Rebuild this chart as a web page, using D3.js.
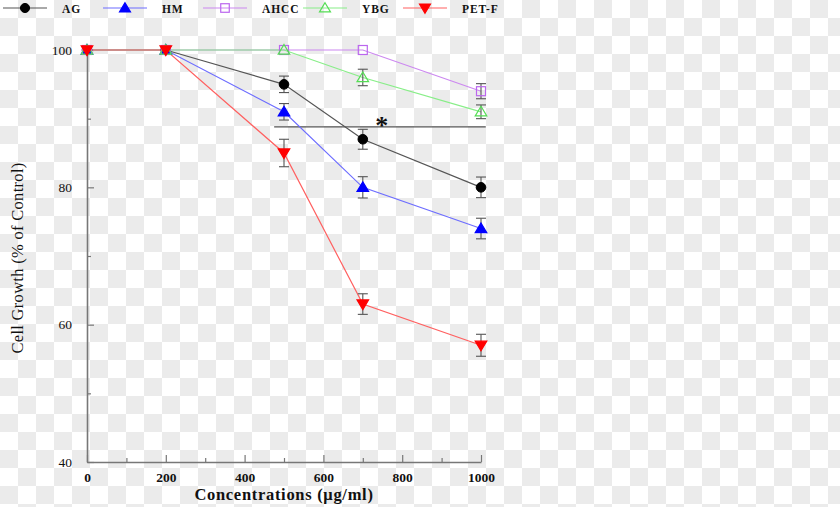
<!DOCTYPE html>
<html><head><meta charset="utf-8">
<script src="https://cdn.jsdelivr.net/npm/d3@7"></script>
<style>
html,body{margin:0;padding:0;background:#fff;}
svg{display:block;}
</style></head>
<body>
<script>
// ---- data ----
const concentrations = [0, 200, 500, 700, 1000];
const seriesNames = ["AG", "HM", "AHCC", "YBG", "PET-F"];
const agValues   = [100, 100, 95, 87, 80];
const hmValues   = [100, 100, 91, 80, 74];
const ahccValues = [100, 100, 100, 100, 94];
const ybgValues  = [100, 100, 100, 96, 91];
const petfValues = [100, 100, 85, 63, 57];
const agErr   = [0, 0, 1.2, 1.45, 1.5];
const hmErr   = [0, 0, 1.2, 1.55, 1.5];
const ahccErr = [0, 0, 0, 0, 1.1];
const ybgErr  = [0, 0, 0, 1.2, 1.0];
const petfErr = [0, 0, 2.0, 1.5, 1.6];
const xTicks = [0, 200, 400, 600, 800, 1000];
const xMinorTicks = [100, 300, 500, 700, 900];
const yTicks = [40, 60, 80, 100];
const yMinorTicks = [50, 70, 90];
const sigBar = [475, 1012, 88.8]; // x from, x to, y (data units)

// ---- styles ----
const styles = {
  "AG":    {line:"#555555", fill:"#000000", stroke:"#000000", shape:"circle"},
  "HM":    {line:"#6d6dff", fill:"#0000ff", stroke:"#0000ff", shape:"tri"},
  "AHCC":  {line:"#cc88f0", fill:"none",    stroke:"#bb66ee", shape:"square"},
  "YBG":   {line:"#88ee88", fill:"none",    stroke:"#55dd55", shape:"tri"},
  "PET-F": {line:"#ff6060", fill:"#ff0000", stroke:"#ff0000", shape:"triDown"}
};
const valuesBy = [agValues, hmValues, ahccValues, ybgValues, petfValues];
const errBy = [agErr, hmErr, ahccErr, ybgErr, petfErr];
const series = seriesNames.map((n,i)=>({name:n, values:valuesBy[i], err:errBy[i], st:styles[n]}));

const W = 840, H = 507;
const svg = d3.select("body").append("svg").attr("width", W).attr("height", H);

// checkerboard background
const defs = svg.append("defs");
const pat = defs.append("pattern").attr("id","chk").attr("width",36).attr("height",36)
  .attr("patternUnits","userSpaceOnUse");
pat.append("rect").attr("width",36).attr("height",36).attr("fill","#ffffff");
pat.append("rect").attr("x",18).attr("y",0).attr("width",18).attr("height",18).attr("fill","#ebebeb");
pat.append("rect").attr("x",0).attr("y",18).attr("width",18).attr("height",18).attr("fill","#ebebeb");
svg.append("rect").attr("width",W).attr("height",H).attr("fill","url(#chk)");

const x = d3.scaleLinear().domain([0, 1000]).range([87, 481]);
const y = d3.scaleLinear().domain([40, 100]).range([462, 50]);

const serif = "'Liberation Serif','DejaVu Serif',serif";

// axes
function styleAxis(g){
  g.selectAll("path.domain").attr("stroke","#777").attr("stroke-width",1.6);
  g.selectAll(".tick line").attr("stroke","#777").attr("stroke-width",1.2);
}
const gx = svg.append("g").attr("transform",`translate(0,${y(40)})`)
  .call(d3.axisBottom(x).tickValues(xTicks).tickSizeInner(-7).tickSizeOuter(0).tickPadding(10).tickFormat(d3.format("d")));
styleAxis(gx);
gx.selectAll(".tick text").attr("font-family",serif).attr("font-weight","bold").attr("font-size",13.5).attr("fill","#111");
const gxm = svg.append("g").attr("transform",`translate(0,${y(40)})`)
  .call(d3.axisBottom(x).tickValues(xMinorTicks).tickSizeInner(-4).tickSizeOuter(0).tickFormat(""));
gxm.select("path.domain").remove();
styleAxis(gxm);

const gy = svg.append("g").attr("transform",`translate(${x(0)},0)`)
  .call(d3.axisLeft(y).tickValues(yTicks).tickSizeInner(-7).tickSizeOuter(0).tickPadding(15).tickFormat(d3.format("d")));
styleAxis(gy);
gy.selectAll(".tick text").attr("font-family",serif).attr("font-size",13.5).attr("fill","#111");
const gym = svg.append("g").attr("transform",`translate(${x(0)},0)`)
  .call(d3.axisLeft(y).tickValues(yMinorTicks).tickSizeInner(-4).tickSizeOuter(0).tickFormat(""));
gym.select("path.domain").remove();
styleAxis(gym);

// axis titles
svg.append("text").attr("x",284).attr("y",500).attr("text-anchor","middle")
  .attr("font-family",serif).attr("font-weight","bold").attr("font-size",16.5)
  .attr("letter-spacing",0.7).attr("fill","#111").text("Concentrations (μg/ml)");
svg.append("text").attr("transform","translate(23,258) rotate(-90)").attr("text-anchor","middle")
  .attr("font-family",serif).attr("font-size",16.5).attr("letter-spacing",0.3).attr("fill","#111").text("Cell Growth (% of Control)");

// marker drawing
function marker(g, shape, cx, cy, st, s){
  s = s || 1;
  if (shape==="circle"){
    g.append("circle").attr("cx",cx).attr("cy",cy).attr("r",4.8*s).attr("fill",st.fill).attr("stroke",st.stroke);
  } else if (shape==="square"){
    g.append("rect").attr("x",cx-4.5*s).attr("y",cy-4.5*s).attr("width",9*s).attr("height",9*s)
      .attr("fill",st.fill).attr("stroke",st.stroke).attr("stroke-width",1.2);
  } else if (shape==="tri"){
    const h=5.5*s;
    g.append("path").attr("d",`M${cx},${cy-h}L${cx+h*1.05},${cy+h*0.75}L${cx-h*1.05},${cy+h*0.75}Z`)
      .attr("fill",st.fill).attr("stroke",st.stroke).attr("stroke-width",1.2);
  } else {
    const h=5.5*s;
    g.append("path").attr("d",`M${cx},${cy+h}L${cx+h*1.05},${cy-h*0.75}L${cx-h*1.05},${cy-h*0.75}Z`)
      .attr("fill",st.fill).attr("stroke",st.stroke).attr("stroke-width",1.2);
  }
}

// significance bar
svg.append("line").attr("x1",x(sigBar[0])).attr("x2",x(sigBar[1])).attr("y1",y(sigBar[2])).attr("y2",y(sigBar[2]))
  .attr("stroke","#555").attr("stroke-width",1.2);
svg.append("text").attr("x",x(748)).attr("y",y(sigBar[2])+7).attr("text-anchor","middle")
  .attr("font-family",serif).attr("font-weight","bold").attr("font-size",26).attr("fill","#111").text("*");

// lines
const line = d3.line().x(d=>x(d[0])).y(d=>y(d[1]));
series.forEach(s=>{
  svg.append("path").datum(concentrations.map((c,i)=>[c,s.values[i]]))
    .attr("d",line).attr("fill","none").attr("stroke",s.st.line).attr("stroke-width",1.2);
});
// error bars
series.forEach(s=>{
  const g = svg.append("g").attr("stroke","#555").attr("stroke-width",1.1);
  concentrations.forEach((c,i)=>{
    const e = s.err[i]; if(!e) return;
    const cx = x(c);
    g.append("line").attr("x1",cx).attr("x2",cx).attr("y1",y(s.values[i]+e)).attr("y2",y(s.values[i]-e));
    [e,-e].forEach(ee=>{
      g.append("line").attr("x1",cx-5).attr("x2",cx+5).attr("y1",y(s.values[i]+ee)).attr("y2",y(s.values[i]+ee));
    });
  });
});
// markers
series.forEach(s=>{
  const g = svg.append("g");
  concentrations.forEach((c,i)=>marker(g, s.st.shape, x(c), y(s.values[i]), s.st));
});

// legend
const lg = svg.append("g");
series.forEach((s,i)=>{
  const x0 = 3 + i*100;
  lg.append("line").attr("x1",x0).attr("x2",x0+44).attr("y1",8).attr("y2",8)
    .attr("stroke",s.st.line).attr("stroke-width",1.2);
  marker(lg, s.st.shape, x0+22, 8, s.st, 0.95);
  lg.append("text").attr("x",x0+59).attr("y",12.5).attr("font-family",serif).attr("font-weight","bold")
    .attr("font-size",11.5).attr("letter-spacing",0.9).attr("fill","#111").text(s.name);
});
</script>
</body></html>
